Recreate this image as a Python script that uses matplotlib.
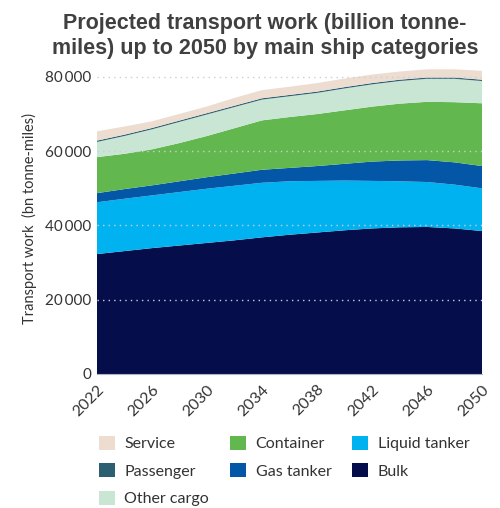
import matplotlib
matplotlib.use("Agg")
import matplotlib.pyplot as plt
from matplotlib.patches import Patch
import numpy as np

years = [2022, 2024, 2026, 2028, 2030, 2032, 2034, 2036, 2038, 2040, 2042, 2044, 2046, 2048, 2050]
bulk = [32300, 33100, 33900, 34600, 35300, 36000, 36800, 37500, 38100, 38700, 39200, 39500, 39600, 39200, 38500]
liquid_tanker = [13950, 14100, 14200, 14400, 14600, 14700, 14700, 14400, 13900, 13400, 12800, 12400, 12100, 11800, 11500]
gas_tanker = [2450, 2600, 2700, 2900, 3100, 3300, 3500, 3600, 4000, 4500, 5200, 5600, 5900, 6000, 6000]
container = [9700, 9500, 9700, 10300, 11100, 12200, 13300, 13700, 14000, 14400, 14800, 15300, 15700, 16200, 16900]
other_cargo = [4100, 4800, 5400, 5700, 5800, 5700, 5600, 5600, 5700, 5900, 6000, 6100, 6200, 6300, 6000]
passenger = [350, 350, 350, 350, 350, 350, 350, 350, 350, 350, 350, 350, 350, 350, 350]
service = [2500, 2200, 1800, 1800, 1800, 2100, 2200, 2200, 2300, 2300, 2300, 2200, 2200, 2200, 2400]

series_names = ["Bulk", "Liquid tanker", "Gas tanker", "Container", "Other cargo", "Passenger", "Service"]
series_values = [bulk, liquid_tanker, gas_tanker, container, other_cargo, passenger, service]
colors = {
    "Bulk": "#050D4B",
    "Liquid tanker": "#00B2EF",
    "Gas tanker": "#0456A6",
    "Container": "#62B84E",
    "Other cargo": "#C9E6D5",
    "Passenger": "#2D5F73",
    "Service": "#EDDCD0",
}
xticks = [2022, 2026, 2030, 2034, 2038, 2042, 2046, 2050]
yticks = [0, 20000, 40000, 60000, 80000]
ytick_labels = ["0", "20\u2009000", "40\u2009000", "60\u2009000", "80\u2009000"]

fig = plt.figure(figsize=(5.0, 5.08), dpi=100)
ax = fig.add_axes([0.194, 0.2638, 0.770, 0.614])

ax.stackplot(years, *series_values, colors=[colors[n] for n in series_names], linewidth=0)

ax.set_xlim(2022, 2050)
ax.set_ylim(0, 84000)
ax.set_xticks(xticks)
ax.set_xticklabels([str(x) for x in xticks], rotation=45, ha="right", rotation_mode="anchor",
                   fontsize=11.5, color="#333333", family=["Lato", "DejaVu Sans"])
ax.set_yticks(yticks)
ax.set_yticklabels(ytick_labels, fontsize=11, color="#333333", family=["Lato", "DejaVu Sans"])
ax.tick_params(axis="both", length=0, pad=4)
ax.tick_params(axis="x", pad=6)

for y in [20000, 40000, 60000, 80000]:
    ax.axhline(y, color="#c9ced8", linestyle=(0, (1, 3)), linewidth=1.0, zorder=5)

for s in ["top", "right", "left"]:
    ax.spines[s].set_visible(False)
ax.spines["bottom"].set_color("#b0b4c0")
ax.spines["bottom"].set_linewidth(0.8)
ax.spines["bottom"].set_zorder(6)

ax.set_ylabel("Transport work  (bn tonne-miles)", fontsize=10.5, color="#333333",
              family=["Lato", "DejaVu Sans"], labelpad=6)

fig.text(0.53, 0.929, "Projected transport work (billion tonne-\nmiles) up to 2050 by main ship categories",
         ha="center", va="center", fontsize=15.5, fontweight="bold", color="#404040",
         family=["Liberation Sans", "DejaVu Sans"], linespacing=1.2)

legend_order = ["Service", "Passenger", "Other cargo", "Container", "Gas tanker", "Liquid tanker", "Bulk"]
handles = [Patch(facecolor=colors[n], edgecolor="none", label=n) for n in legend_order]
leg = fig.legend(handles=handles, loc="upper left", bbox_to_anchor=(0.169, 0.171), ncol=3,
                 frameon=False, handlelength=1.0, handleheight=1.0,
                 handletextpad=0.6, columnspacing=1.3, labelspacing=0.75,
                 prop={"family": ["Lato", "DejaVu Sans"], "size": 11.5})
for t in leg.get_texts():
    t.set_color("#333333")

fig.savefig("out.png", dpi=100)
